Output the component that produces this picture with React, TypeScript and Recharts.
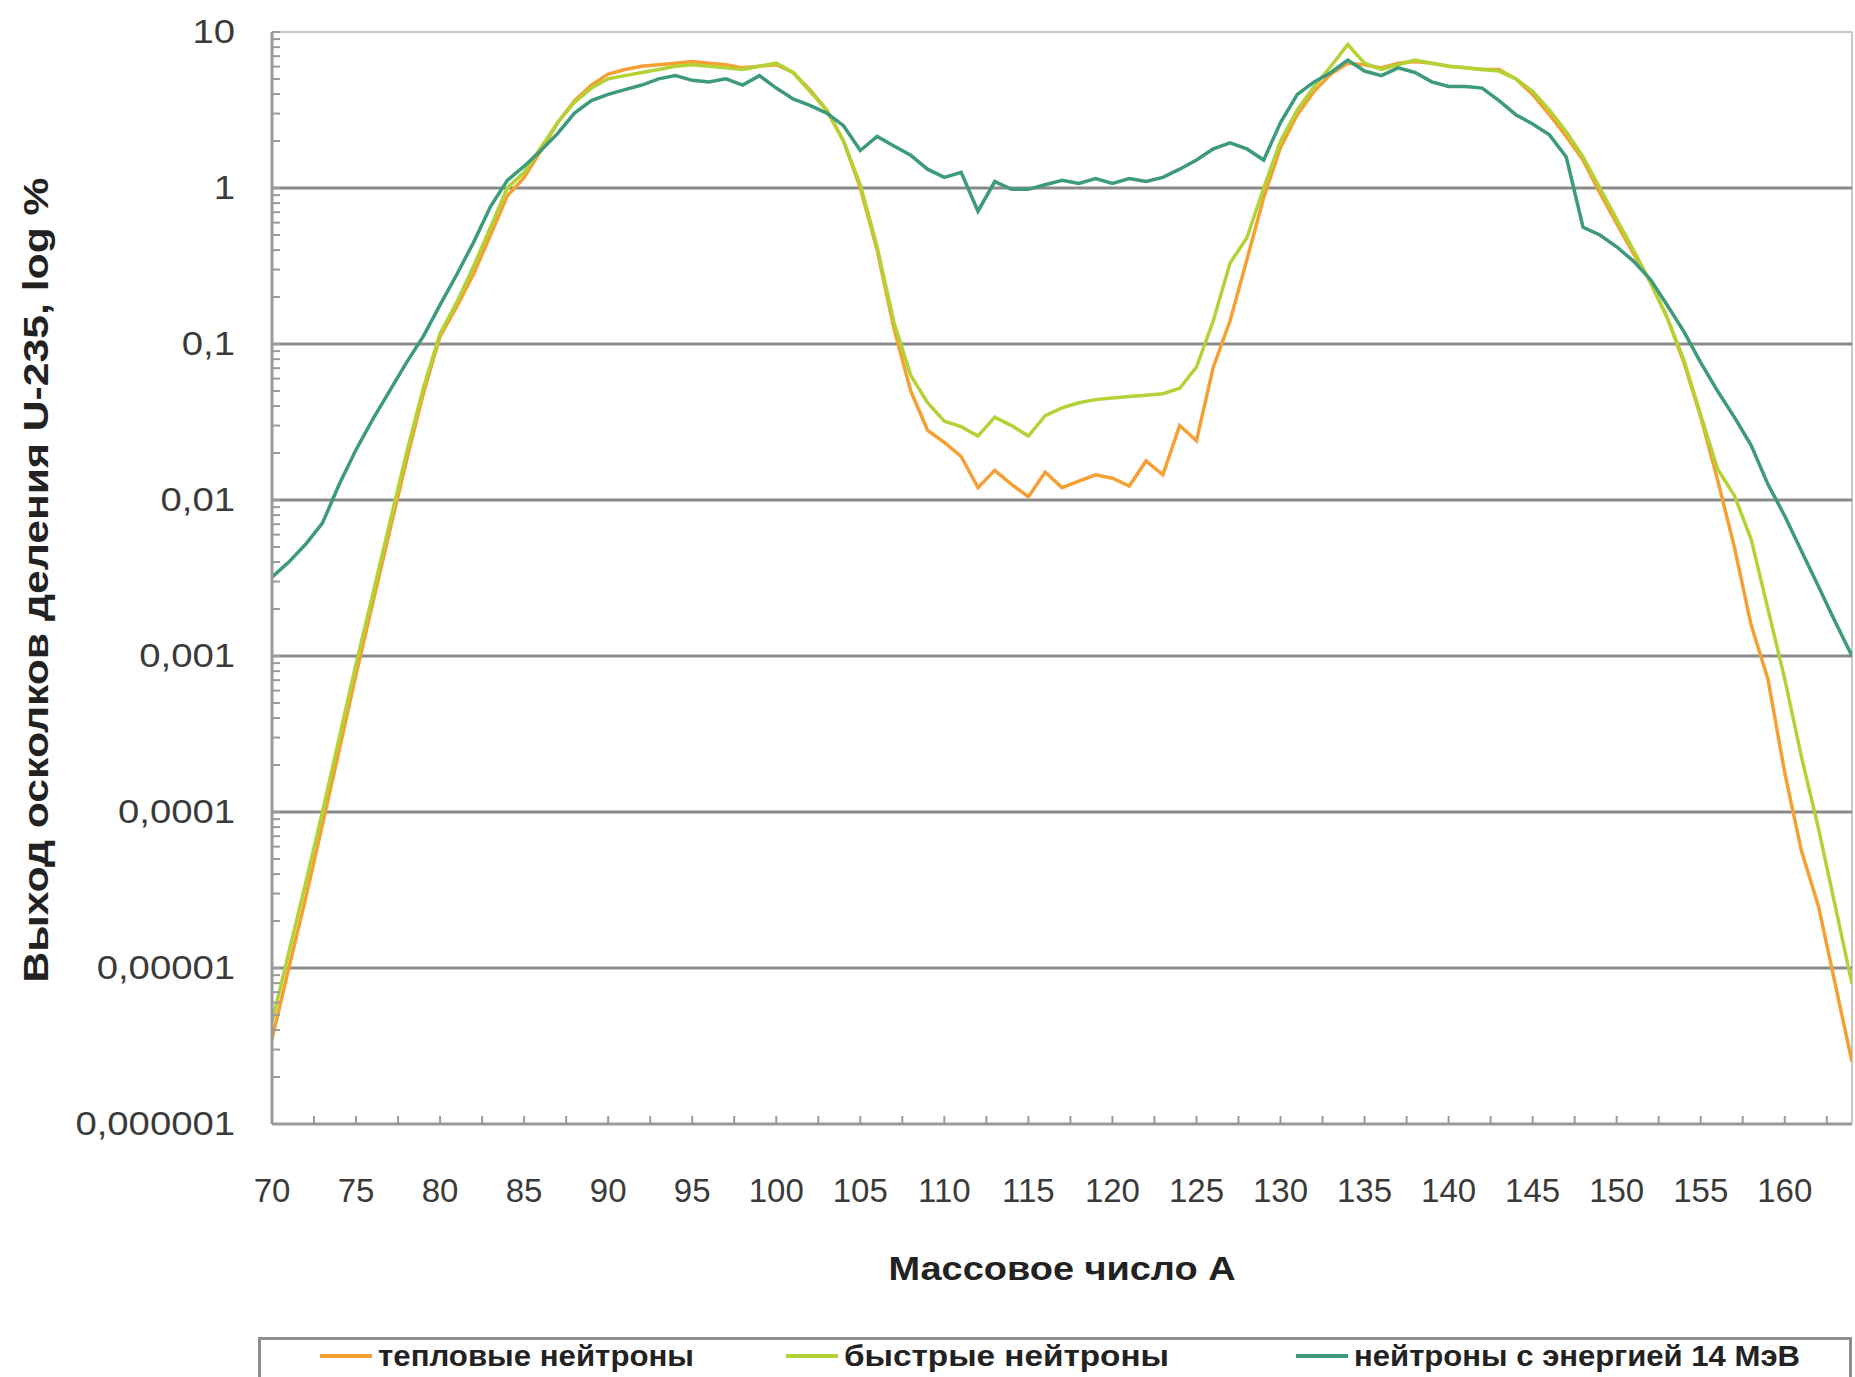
import { LineChart, Line, XAxis, YAxis, ReferenceLine, Label } from 'recharts';

// mass number A
const massNumbers = [
  70, 71, 72, 73, 74, 75, 76, 77, 78, 79,
  80, 81, 82, 83, 84, 85, 86, 87, 88, 89,
  90, 91, 92, 93, 94, 95, 96, 97, 98, 99,
  100, 101, 102, 103, 104, 105, 106, 107, 108, 109,
  110, 111, 112, 113, 114, 115, 116, 117, 118, 119,
  120, 121, 122, 123, 124, 125, 126, 127, 128, 129,
  130, 131, 132, 133, 134, 135, 136, 137, 138, 139,
  140, 141, 142, 143, 144, 145, 146, 147, 148, 149,
  150, 151, 152, 153, 154, 155, 156, 157, 158, 159,
  160, 161, 162, 163, 164,
];

// fission yield, %
const thermalYield = [
  0.0000035, 0.00001, 0.000028, 0.000083, 0.00025, 0.00076, 0.0022, 0.0063, 0.0178, 0.048,
  0.112, 0.174, 0.282, 0.5, 0.89, 1.17, 1.74, 2.63, 3.63, 4.57,
  5.37, 5.75, 6.03, 6.17, 6.31, 6.46, 6.31, 6.17, 5.89, 6.03,
  6.17, 5.5, 4.27, 3.16, 2.0, 1.0, 0.4, 0.126, 0.05, 0.028,
  0.0234, 0.019, 0.012, 0.0155, 0.0126, 0.0105, 0.0151, 0.012, 0.0132, 0.0145,
  0.0138, 0.0123, 0.0178, 0.0145, 0.03, 0.024, 0.071, 0.141, 0.347, 0.87,
  1.82, 2.95, 4.17, 5.37, 6.31, 6.17, 5.89, 6.31, 6.46, 6.31,
  6.03, 5.89, 5.75, 5.75, 5.01, 3.98, 2.95, 2.14, 1.51, 0.93,
  0.59, 0.38, 0.25, 0.148, 0.076, 0.034, 0.0135, 0.005, 0.00158, 0.00071,
  0.000178, 0.000056, 0.000025, 0.0000079, 0.0000025,
];

const fastYield = [
  0.0000045, 0.0000126, 0.000035, 0.0001, 0.0003, 0.00089, 0.0025, 0.0071, 0.02, 0.052,
  0.117, 0.186, 0.316, 0.56, 1.0, 1.26, 1.82, 2.63, 3.55, 4.37,
  5.01, 5.25, 5.5, 5.75, 6.03, 6.17, 6.03, 5.89, 5.75, 6.03,
  6.31, 5.5, 4.17, 3.16, 2.0, 1.05, 0.42, 0.138, 0.063, 0.042,
  0.032, 0.0295, 0.0257, 0.034, 0.03, 0.0257, 0.0347, 0.039, 0.042, 0.044,
  0.045, 0.046, 0.047, 0.048, 0.052, 0.071, 0.141, 0.33, 0.48, 1.0,
  2.0, 3.16, 4.47, 6.03, 8.32, 6.31, 5.75, 6.17, 6.61, 6.31,
  6.03, 5.89, 5.75, 5.62, 5.01, 4.17, 3.16, 2.29, 1.58, 1.0,
  0.63, 0.4, 0.25, 0.148, 0.079, 0.035, 0.0158, 0.0107, 0.0056, 0.002,
  0.00071, 0.000224, 0.000079, 0.000025, 0.0000079,
];

const mev14Yield = [
  0.0032, 0.004, 0.0052, 0.0071, 0.0126, 0.021, 0.033, 0.05, 0.076, 0.112,
  0.178, 0.28, 0.45, 0.76, 1.12, 1.38, 1.74, 2.24, 3.02, 3.63,
  3.98, 4.27, 4.57, 5.01, 5.25, 4.9, 4.79, 5.01, 4.57, 5.25,
  4.37, 3.72, 3.39, 3.02, 2.51, 1.74, 2.14, 1.86, 1.62, 1.32,
  1.17, 1.26, 0.71, 1.1, 0.98, 0.98, 1.05, 1.12, 1.07, 1.15,
  1.07, 1.15, 1.1, 1.17, 1.32, 1.51, 1.78, 1.95, 1.78, 1.51,
  2.63, 3.98, 4.79, 5.5, 6.61, 5.62, 5.25, 5.89, 5.5, 4.79,
  4.47, 4.47, 4.37, 3.63, 2.95, 2.57, 2.19, 1.58, 0.56, 0.5,
  0.42, 0.34, 0.26, 0.178, 0.12, 0.076, 0.05, 0.034, 0.0224, 0.0126,
  0.0079, 0.0047, 0.0028, 0.00166, 0.001,
];

const series = [
  { key: 'thermal', name: 'тепловые нейтроны', color: '#f4a033' },
  { key: 'fast', name: 'быстрые нейтроны', color: '#b3d236' },
  { key: 'mev14', name: 'нейтроны с энергией 14 МэВ', color: '#3d9a7c' },
];
// legend layout (page px, relative to the legend box)
const legendSwatchX = [59, 525, 1035];
const legendTextWidth = [316, 325, 446];

const yMajorTicks = [0.000001, 0.00001, 0.0001, 0.001, 0.01, 0.1, 1, 10];
const yTickLabels = ['0,000001', '0,00001', '0,0001', '0,001', '0,01', '0,1', '1', '10'];
const yMinorFactors = [2, 3, 4, 5, 6, 7, 8, 9];
const yGridLines = [0.00001, 0.0001, 0.001, 0.01, 0.1, 1];

const xMajorTicks = [70, 75, 80, 85, 90, 95, 100, 105, 110, 115, 120, 125, 130, 135, 140, 145, 150, 155, 160];
const xMinorTicks = [72.5, 77.5, 82.5, 87.5, 92.5, 97.5, 102.5, 107.5, 112.5, 117.5, 122.5, 127.5, 132.5, 137.5, 142.5, 147.5, 152.5, 157.5, 162.5];

const data = massNumbers.map((a, i) => ({
  a,
  thermal: thermalYield[i],
  fast: fastYield[i],
  mev14: mev14Yield[i],
}));

const yTicks = [
  ...yMajorTicks,
  ...yMajorTicks.slice(0, -1).flatMap((d) => yMinorFactors.map((k) => d * k)),
].sort((p, q) => p - q);
const xTicks = [...xMajorTicks, ...xMinorTicks].sort((p, q) => p - q);

const FONT = '"Liberation Sans", Arial, sans-serif';
const AXIS_COLOR = '#9a9a9a';

function YTick(props: any) {
  const { x, y, payload } = props;
  const i = yMajorTicks.indexOf(payload.value);
  return (
    <g>
      <line x1={x} x2={x + 8} y1={y} y2={y} stroke={AXIS_COLOR} strokeWidth={2} />
      {i >= 0 && (
        <text transform={`translate(${x - 37} ${y}) scale(1.16 1)`} x={0} y={0} textAnchor="end" dominantBaseline="central"
          fontSize={33} fill="#3a3a3a" fontFamily={FONT}>
          {yTickLabels[i]}
        </text>
      )}
    </g>
  );
}

function XTick(props: any) {
  const { x, y, payload } = props;
  const major = xMajorTicks.includes(payload.value);
  return (
    <g>
      <line x1={x} x2={x} y1={y} y2={y - 8} stroke={AXIS_COLOR} strokeWidth={2} />
      {major && (
        <text x={x} y={y + 66} textAnchor="middle" dominantBaseline="central" fontSize={33} fill="#3a3a3a" fontFamily={FONT}>
          {payload.value}
        </text>
      )}
    </g>
  );
}

function YTitle(props: any) {
  const { viewBox } = props;
  const cx = viewBox.x + 35;
  const cy = viewBox.y + viewBox.height / 2 + 2;
  return (
    <text x={cx} y={cy} transform={`rotate(-90 ${cx} ${cy})`} textAnchor="middle" dominantBaseline="central"
      fontSize={35} fontWeight="bold" fill="#222" fontFamily={FONT} textLength={805} lengthAdjust="spacingAndGlyphs">
      Выход осколков деления U-235, log %
    </text>
  );
}

function XTitle(props: any) {
  const { viewBox } = props;
  const cx = viewBox.x + viewBox.width / 2;
  return (
    <text x={cx} y={viewBox.y + 144} textAnchor="middle" dominantBaseline="central"
      fontSize={33} fontWeight="bold" fill="#222" fontFamily={FONT} textLength={347} lengthAdjust="spacingAndGlyphs">
      Массовое число А
    </text>
  );
}

export default function App() {
  return (
    <div style={{ position: 'absolute', left: 0, top: 0, width: 1855, height: 1377, overflow: 'hidden', background: '#fff' }}>
      <LineChart width={1855} height={1377} data={data} margin={{ top: 32, right: 3, bottom: 0, left: 0 }}>
        <XAxis
          dataKey="a"
          type="number"
          domain={[70, 164]}
          ticks={xTicks}
          interval={0}
          allowDataOverflow
          height={253}
          tickSize={0}
          tickMargin={0}
          tickLine={false}
          axisLine={{ stroke: AXIS_COLOR, strokeWidth: 3 }}
          tick={(p: any) => <XTick {...p} />}
        >
          <Label content={(p: any) => <XTitle {...p} />} />
        </XAxis>
        <YAxis
          type="number"
          scale="log"
          domain={[0.000001, 10]}
          ticks={yTicks}
          interval={0}
          allowDataOverflow
          width={272}
          tickSize={0}
          tickMargin={0}
          tickLine={false}
          axisLine={{ stroke: AXIS_COLOR, strokeWidth: 3 }}
          tick={(p: any) => <YTick {...p} />}
        >
          <Label content={(p: any) => <YTitle {...p} />} />
        </YAxis>
        <ReferenceLine y={10} stroke="#c8c8c8" strokeWidth={2} ifOverflow="visible" />
        <ReferenceLine x={164} stroke="#c8c8c8" strokeWidth={2} ifOverflow="visible" />
        {yGridLines.map((v) => (
          <ReferenceLine key={v} y={v} stroke="#8a8a8a" strokeWidth={3} ifOverflow="visible" />
        ))}
        {series.map((s) => (
          <Line
            key={s.key}
            type="linear"
            dataKey={s.key}
            name={s.name}
            stroke={s.color}
            strokeWidth={3.5}
            dot={false}
            isAnimationActive={false}
          />
        ))}
      </LineChart>
      <div
        style={{
          position: 'absolute',
          left: 258,
          top: 1337,
          width: 1594,
          height: 90,
          border: '3px solid #8f8f8f',
          boxSizing: 'border-box',
        }}
      >
        <svg width={1588} height={84} style={{ display: 'block' }}>
          {series.map((s, i) => (
            <g key={s.key}>
              <line x1={legendSwatchX[i]} x2={legendSwatchX[i] + 52} y1={16} y2={16} stroke={s.color} strokeWidth={4} />
              <text x={legendSwatchX[i] + 58} y={16} dominantBaseline="central" fontSize={29} fontWeight="bold" fill="#222"
                fontFamily={FONT} textLength={legendTextWidth[i]} lengthAdjust="spacingAndGlyphs">
                {s.name}
              </text>
            </g>
          ))}
        </svg>
      </div>
    </div>
  );
}
